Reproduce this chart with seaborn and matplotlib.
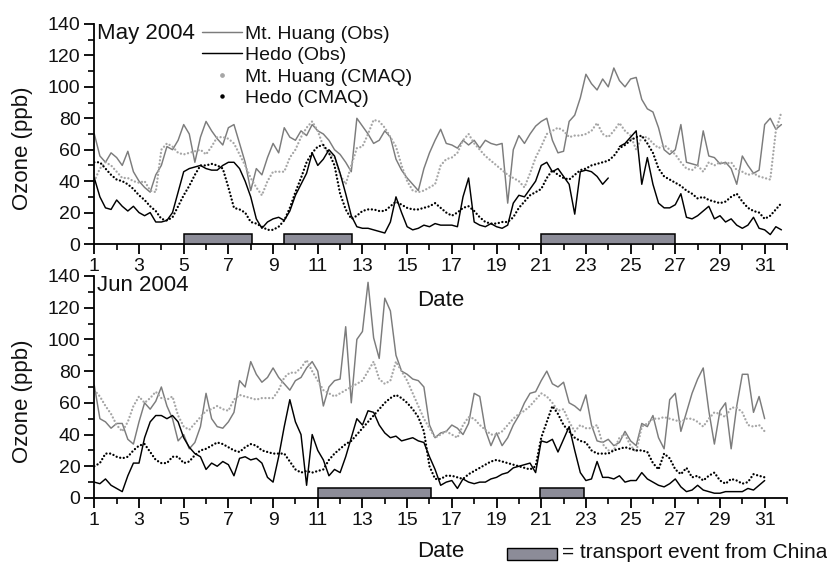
import numpy as np
import pandas as pd
import matplotlib
matplotlib.use("Agg")
import matplotlib.pyplot as plt
from matplotlib.lines import Line2D
from matplotlib.patches import Rectangle
from matplotlib.ticker import MultipleLocator
import seaborn as sns

# Hourly ozone (ppb) sampled every 6 h, starting 00 h on day 1 of each month
may_huang_obs = [
    70, 56, 52, 58, 55, 50, 59, 46, 40, 36, 33, 44, 50, 62, 60, 66,
    76, 70, 52, 68, 78, 72, 67, 63, 74, 76, 64, 52, 34, 48, 44, 55,
    64, 58, 74, 68, 66, 72, 69, 76, 72, 70, 66, 60, 57, 52, 46, 80,
    75, 70, 64, 66, 72, 68, 54, 47, 42, 38, 34, 48, 58, 66, 73, 64,
    63, 61, 66, 63, 66, 61, 66, 64, 63, 64, 26, 60, 69, 64, 70, 75,
    78, 80, 66, 58, 59, 78, 82, 93, 108, 102, 98, 105, 100, 112, 104, 100,
    105, 106, 92, 86, 84, 74, 60, 57, 60, 76, 52, 51, 50, 72, 56, 55,
    51, 52, 48, 38, 56, 50, 45, 47, 76, 80, 73, 76,
]
may_hedo_obs = [
    42, 30, 23, 22, 28, 24, 21, 24, 20, 18, 20, 14, 14, 15, 20, 33,
    46, 48, 49, 50, 48, 47, 47, 50, 52, 52, 48, 40, 30, 16, 10, 14,
    16, 17, 15, 21, 31, 38, 45, 58, 50, 54, 60, 56, 45, 32, 18, 11,
    10, 10, 9, 8, 7, 14, 30, 20, 11, 9, 10, 12, 11, 13, 12, 12,
    12, 11, 30, 42, 14, 12, 11, 13, 11, 10, 12, 26, 31, 30, 35, 40,
    50, 52, 46, 48, 43, 38, 19, 46, 47, 46, 43, 38, 42, np.nan, 62, 64,
    68, 72, 38, 55, 38, 26, 23, 23, 25, 32, 17, 16, 18, 21, 24, 16,
    18, 14, 16, 12, 10, 12, 17, 10, 9, 6, 11, 9,
]
may_huang_cmaq = [
    40, 48, 52, 50, 46, 42, 42, 40, 39, 40, 34, 33, 60, 64, 62, 58,
    57, 58, 59, 60, 57, 62, 68, 68, 67, 64, 57, 50, 42, 36, 31, 40,
    46, 46, 46, 55, 60, 68, 74, 78, 72, 62, 58, 55, 44, 38, 50, 61,
    62, 70, 79, 78, 74, 68, 62, 50, 40, 34, 33, 34, 36, 38, 50, 54,
    55, 58, 66, 70, 64, 60, 56, 53, 50, 47, 44, 42, 40, 36, 45, 55,
    62, 70, 72, 74, 72, 68, 69, 69, 70, 72, 77, 70, 68, 72, 77, 72,
    69, 60, 68, 68, 64, 61, 63, 60, 57, 52, 48, 47, 50, 46, 52, 50,
    52, 51, 52, 47, 46, 44, 45, 43, 42, 41, 72, 84,
]
may_hedo_cmaq = [
    52, 52, 48, 44, 41, 40, 38, 35, 31, 28, 24, 21, 16, 15, 17, 24,
    31, 37, 44, 50, 50, 51, 50, 48, 36, 23, 22, 20, 14, 13, 11, 9,
    9, 11, 15, 23, 33, 42, 52, 58, 62, 63, 58, 50, 32, 22, 16, 18,
    21, 22, 22, 21, 21, 24, 27, 25, 23, 22, 22, 23, 24, 26, 23, 20,
    18, 20, 23, 24, 21, 17, 14, 13, 13, 14, 14, 17, 23, 27, 31, 33,
    35, 42, 47, 44, 42, 41, 44, 47, 48, 50, 51, 52, 53, 56, 61, 63,
    66, 68, 69, 64, 58, 48, 43, 41, 39, 37, 34, 32, 29, 30, 28, 27,
    26, 27, 30, 32, 27, 23, 21, 20, 16, 18, 22, 26,
]

jun_huang_obs = [
    71, 50, 48, 44, 47, 47, 37, 34, 48, 60, 56, 61, 70, 58, 50, 36,
    40, 31, 35, 45, 66, 50, 45, 44, 48, 54, 74, 70, 86, 78, 73, 76,
    82, 76, 72, 68, 74, 76, 82, 86, 80, 58, 70, 74, 75, 108, 60, 100,
    105, 136, 101, 88, 126, 118, 90, 80, 78, 75, 74, 70, 46, 38, 41, 42,
    46, 44, 40, 47, 66, 64, 43, 33, 41, 33, 38, 46, 52, 60, 66, 67,
    74, 80, 72, 70, 73, 60, 58, 55, 65, 46, 36, 35, 37, 33, 35, 42,
    36, 33, 47, 45, 52, 38, 31, 62, 66, 42, 54, 66, 75, 82, 55, 34,
    55, 60, 31, 58, 78, 78, 54, 64, 50,
]
jun_hedo_obs = [
    10, 9, 12, 8, 6, 4, 14, 22, 22, 38, 48, 52, 52, 50, 52, 48,
    38, 32, 28, 26, 18, 22, 20, 23, 21, 14, 25, 26, 24, 25, 22, 13,
    10, 26, 45, 62, 48, 40, 8, 40, 30, 24, 14, 18, 16, 26, 38, 50,
    46, 55, 54, 46, 41, 38, 39, 36, 37, 38, 36, 35, 26, 18, 8, 10,
    11, 6, 12, 10, 9, 10, 10, 12, 13, 15, 16, 19, 20, 21, 22, 16,
    36, 35, 37, 29, 37, 45, 30, 16, 11, 12, 23, 13, 13, 12, 14, 10,
    11, 11, 16, 12, 10, 8, 7, 9, 12, 7, 4, 5, 8, 5, 4, 3,
    3, 4, 4, 4, 4, 6, 5, 8, 11,
]
jun_huang_cmaq = [
    68, 64, 58, 53, 46, 42, 48, 58, 64, 60, 63, 67, 63, 62, 64, 52,
    45, 43, 47, 51, 55, 56, 58, 56, 55, 62, 65, 64, 63, 62, 63, 63,
    63, 68, 76, 79, 79, 82, 87, 80, 74, 68, 66, 64, 66, 68, 70, 72,
    74, 80, 86, 75, 72, 74, 86, 80, 74, 66, 58, 50, 44, 38, 40, 42,
    40, 38, 46, 51, 50, 46, 43, 40, 40, 42, 46, 50, 53, 55, 58, 62,
    66, 64, 60, 55, 56, 48, 42, 46, 44, 44, 46, 34, 30, 30, 38, 40,
    33, 29, 45, 47, 50, 50, 51, 50, 49, 48, 50, 50, 48, 45, 50, 54,
    53, 51, 57, 57, 54, 46, 45, 46, 42,
]
jun_hedo_cmaq = [
    20, 22, 28, 28, 26, 25, 26, 30, 33, 34, 29, 24, 22, 22, 26, 26,
    22, 23, 27, 30, 31, 33, 35, 34, 32, 30, 29, 32, 34, 33, 30, 29,
    28, 28, 28, 23, 18, 16, 17, 16, 17, 18, 24, 28, 31, 34, 36, 40,
    44, 48, 52, 56, 60, 63, 65, 63, 60, 56, 51, 42, 20, 12, 12, 14,
    14, 13, 12, 15, 17, 19, 21, 23, 24, 23, 22, 21, 20, 19, 18, 20,
    38, 48, 58, 53, 46, 42, 38, 36, 35, 30, 28, 28, 28, 30, 31, 32,
    31, 30, 30, 29, 22, 18, 28, 25, 18, 15, 19, 13, 14, 11, 14, 16,
    11, 9, 12, 11, 9, 10, 15, 14, 13,
]

# Transport events from China (start / end, day of month)
may_event_start = [5.0, 9.5, 21.0]
may_event_end = [8.05, 12.55, 27.0]
jun_event_start = [11.0, 20.95]
jun_event_end = [16.05, 22.9]

panel_titles = ["May 2004", "Jun 2004"]
series_labels = ["Mt. Huang (Obs)", "Hedo (Obs)", "Mt. Huang (CMAQ)", "Hedo (CMAQ)"]
day_ticks = list(range(1, 32, 2))
ozone_ticks = list(range(0, 141, 20))

GRAY_LINE = "#7c7c7c"
GRAY_DOT = "#a6a6a6"
BAR_FILL = "#8c8c98"
DOTTED = (0, (0.01, 1.55))

sns.set_theme(style="ticks")
plt.rcParams["font.family"] = ["Liberation Sans", "DejaVu Sans"]
plt.rcParams["axes.linewidth"] = 1.3


def to_frame(values):
    vals = np.asarray(values, dtype=float)
    day = 1 + 0.25 * np.arange(len(vals))
    seg = np.cumsum(np.isnan(vals))
    return pd.DataFrame({"day": day, "ozone": vals, "seg": seg}).dropna()


def draw_series(ax, values, color, dotted=False):
    kw = dict(lw=1.05)
    if dotted:
        kw = dict(lw=1.7, linestyle=DOTTED, dash_capstyle="round")
    sns.lineplot(data=to_frame(values), x="day", y="ozone", units="seg",
                 estimator=None, sort=False, color=color, ax=ax,
                 legend=False, **kw)


def draw_panel(ax, huang_obs, hedo_obs, huang_cmaq, hedo_cmaq,
               ev_start, ev_end, title, xlabel_y):
    draw_series(ax, huang_obs, GRAY_LINE)
    draw_series(ax, huang_cmaq, GRAY_DOT, dotted=True)
    draw_series(ax, hedo_obs, "black")
    draw_series(ax, hedo_cmaq, "black", dotted=True)

    widths = np.subtract(ev_end, ev_start)
    ax.bar(ev_start, 6.5, width=widths, bottom=0, align="edge",
           color=BAR_FILL, edgecolor="black", linewidth=1.1, zorder=4)

    ax.set_xlim(1, 32)
    ax.set_ylim(0, 140)
    ax.set_xticks(day_ticks)
    ax.set_yticks(ozone_ticks)
    ax.xaxis.set_minor_locator(MultipleLocator(1))
    ax.yaxis.set_minor_locator(MultipleLocator(10))
    ax.tick_params(which="major", length=7, width=1.3, labelsize=14,
                   pad=3, color="black", labelcolor="#111111")
    ax.tick_params(which="minor", length=4, width=1.2, color="black")
    for s in ("left", "bottom"):
        ax.spines[s].set_color("black")
    sns.despine(ax=ax)

    ax.set_ylabel("Ozone (ppb)", fontsize=16, color="#111111")
    ax.yaxis.set_label_coords(-0.088, 0.436)
    ax.set_xlabel("Date", fontsize=16, color="#111111")
    ax.xaxis.set_label_coords(0.5, xlabel_y)
    ax.text(0.004, 1.005, title, transform=ax.transAxes, ha="left",
            va="top", fontsize=16, color="#111111")


fig = plt.figure(figsize=(8.28, 5.63), dpi=100)
ax_may = fig.add_axes([0.1139, 0.5666, 0.8366, 0.3908])
ax_jun = fig.add_axes([0.1139, 0.1155, 0.8366, 0.3943])
ax_jun.patch.set_alpha(0)

draw_panel(ax_may, may_huang_obs, may_hedo_obs, may_huang_cmaq,
           may_hedo_cmaq, may_event_start, may_event_end, panel_titles[0],
           -0.21)
draw_panel(ax_jun, jun_huang_obs, jun_hedo_obs, jun_huang_cmaq,
           jun_hedo_cmaq, jun_event_start, jun_event_end, panel_titles[1],
           -0.195)

handles = [
    Line2D([], [], color=GRAY_LINE, lw=1.05),
    Line2D([], [], color="black", lw=1.05),
    Line2D([], [], color=GRAY_DOT, marker="o", ms=2.4, ls="none"),
    Line2D([], [], color="black", marker="o", ms=2.2, ls="none"),
]
ax_may.legend(handles, series_labels, loc="upper left",
              bbox_to_anchor=(0.156, 0.995), frameon=False, fontsize=14,
              handlelength=2.05, handletextpad=0.12, labelspacing=0.2,
              borderpad=0, borderaxespad=0, numpoints=1,
              labelcolor="#111111")

fig.add_artist(Rectangle((507 / 828, 1 - 560 / 563), 50 / 828, 12 / 563,
                         transform=fig.transFigure, facecolor=BAR_FILL,
                         edgecolor="black", linewidth=1.0))
fig.text(562 / 828, 1 - 552 / 563, "= transport event from China",
         ha="left", va="center", fontsize=15, color="#111111")

fig.savefig("out.png", dpi=100)
